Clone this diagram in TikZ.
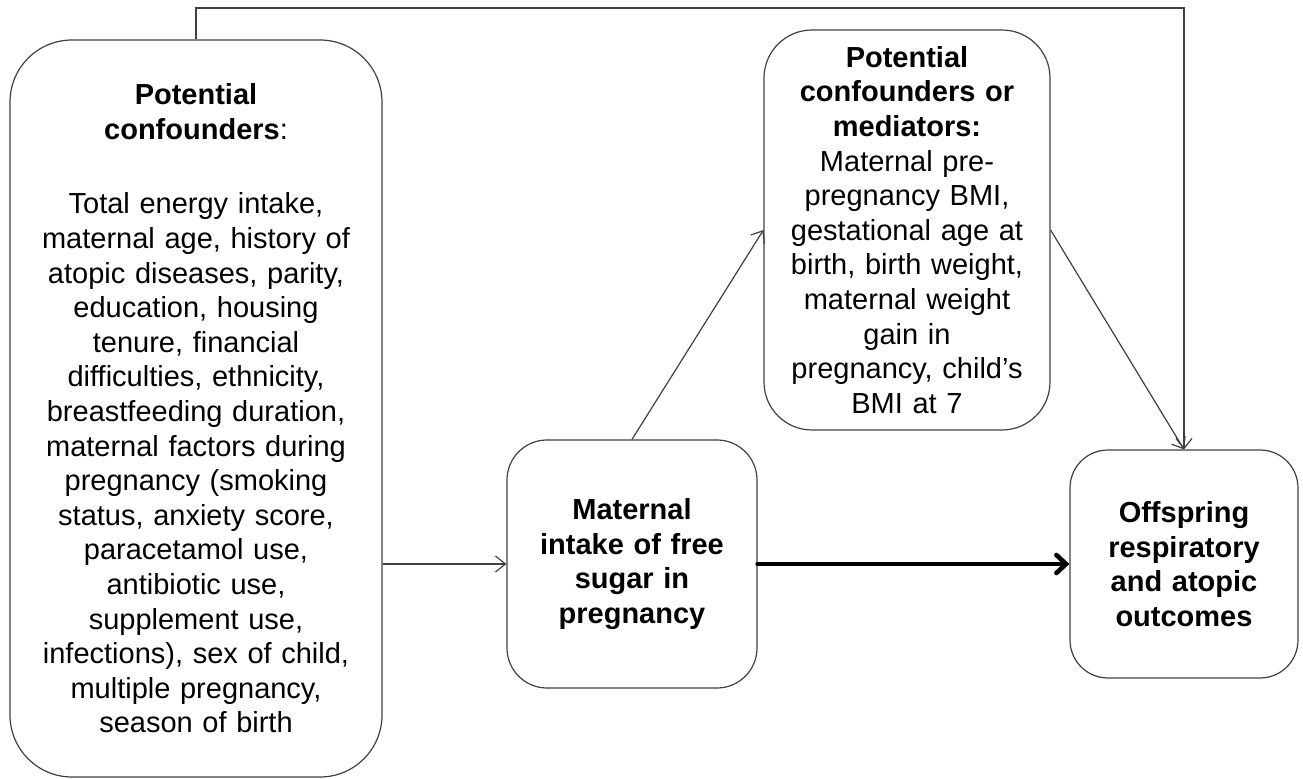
\documentclass[tikz,border=0pt]{standalone}
\usepackage{fontspec}
\setmainfont{Liberation Sans}
\usetikzlibrary{arrows.meta}
\begin{document}
\begin{tikzpicture}[x=1pt,y=1pt,
	>={Straight Barb[length=5pt,width=8pt]},
	box/.style={draw=black!75,line width=0.6pt,rectangle,align=center,inner sep=0pt,
		font=\fontsize{14.5}{17.3}\selectfont},
	conn/.style={->,draw=black!75,line width=0.6pt},
	main/.style={line width=2.3pt,line cap=round,
		-{Straight Barb[length=4.8pt,width=9pt,line cap=round]}}]
	\useasboundingbox (0,0) rectangle (651.5,389);
	% boxes
	\node[box,rounded corners=31pt,minimum width=186pt,minimum height=368.5pt,text width=180pt] (conf) at (98,184.75)
		{\textbf{Potential}\\\textbf{confounders}:\\[20pt]
		Total energy intake,\\maternal age, history of\\atopic diseases, parity,\\education, housing\\tenure, financial\\
		difficulties, ethnicity,\\breastfeeding duration,\\maternal factors during\\pregnancy (smoking\\status, anxiety score,\\
		paracetamol use,\\antibiotic use,\\supplement use,\\infections), sex of child,\\multiple pregnancy,\\season of birth};
	\node[box,rounded corners=20pt,minimum width=125pt,minimum height=124pt,text width=120pt,font=\fontsize{14.5}{17.3}\selectfont\bfseries] (sugar) at (316,107)
		{Maternal\\intake of free\\sugar in\\pregnancy};
	\node[box,rounded corners=24pt,minimum width=143pt,minimum height=200pt,text width=138pt] (med) at (453.5,274)
		{\textbf{Potential}\\\textbf{confounders or}\\\textbf{mediators:}\\Maternal pre-\\pregnancy BMI,\\gestational age at\\
		birth, birth weight,\\maternal weight\\gain in\\pregnancy, child’s\\BMI at 7};
	\node[box,rounded corners=19pt,minimum width=114pt,minimum height=114pt,text width=110pt,font=\fontsize{14.5}{17.3}\selectfont\bfseries] (resp) at (592,107)
		{Offspring\\respiratory\\and atopic\\outcomes};
	\coordinate (topline) at (0,385);
	% connectors
	\draw[conn] (conf.north) -- (conf.north |- topline) -| (resp.north);
	\draw[conn] (conf.east |- sugar.west) -- (sugar.west);
	\draw[conn] (sugar.north) -- (med.west);
	\draw[conn] (med.east) -- (resp.north);
	\draw[main] (sugar.east) -- (resp.west);
\end{tikzpicture}
\end{document}
